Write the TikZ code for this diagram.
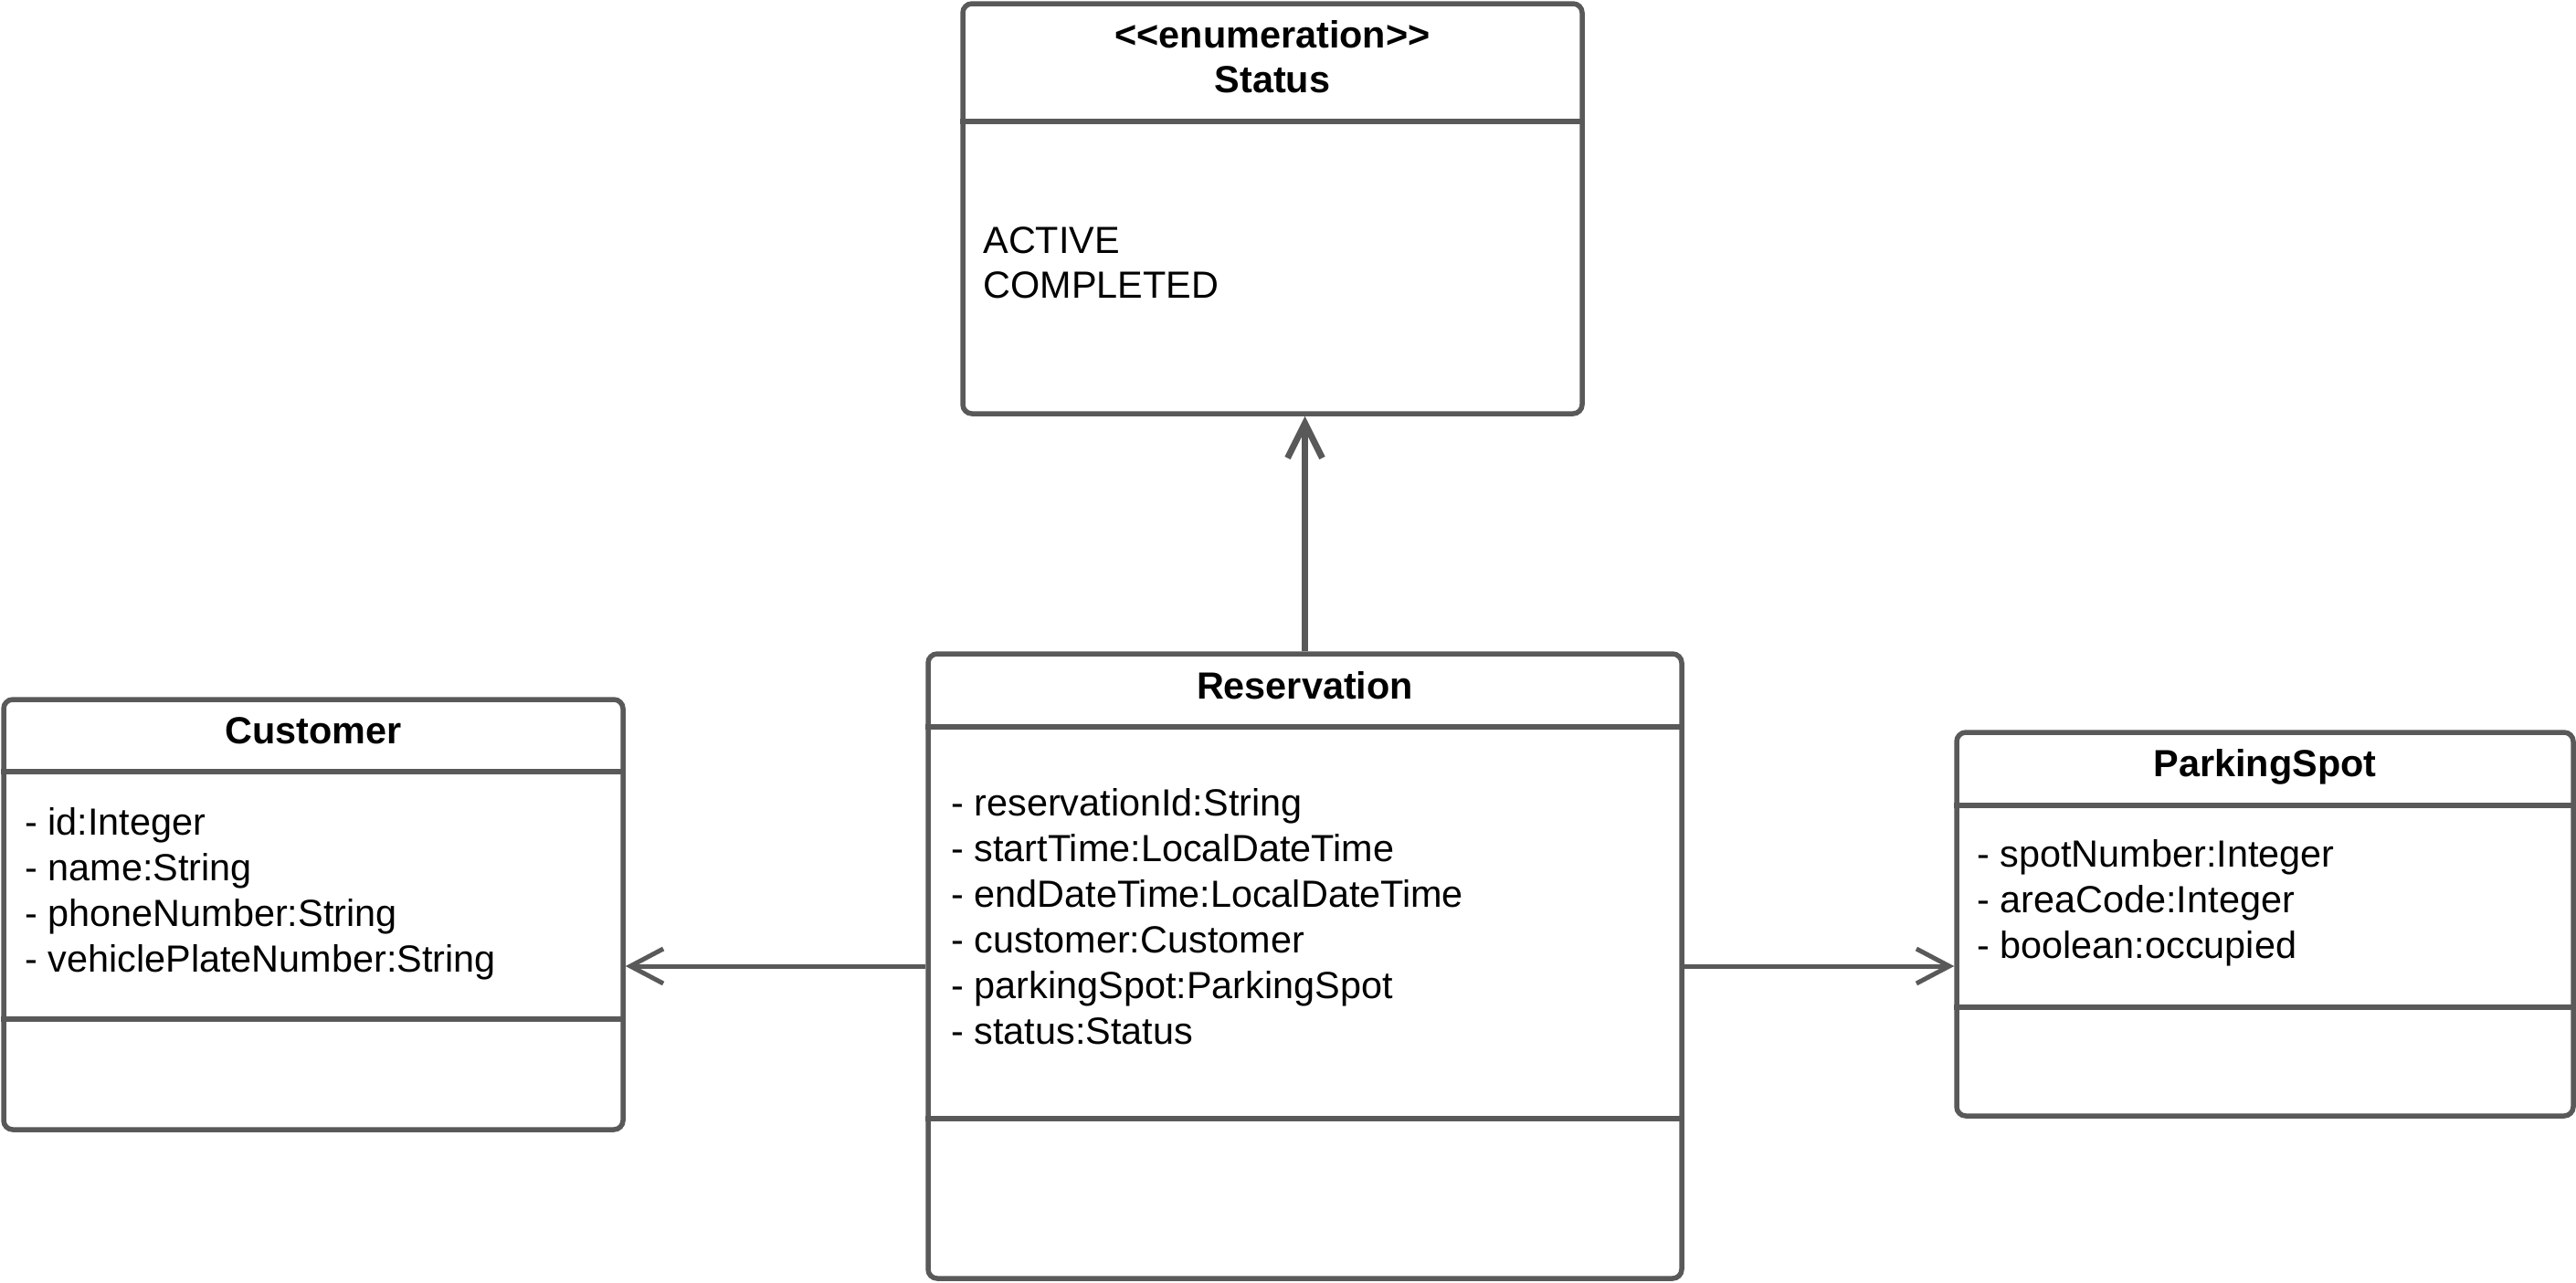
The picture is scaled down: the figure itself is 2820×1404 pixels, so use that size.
\documentclass[tikz,border=0pt]{standalone}
\usepackage{fontspec}
\setmainfont{Liberation Sans}
\usetikzlibrary{arrows.meta}
\definecolor{umlgrey}{RGB}{89,89,89}

\begin{document}
\begin{tikzpicture}[x=0.5pt,y=0.5pt,yscale=-1,xscale=1,
    classbox/.style={draw=umlgrey, line width=2.75pt, rounded corners=5pt, fill=white, inner sep=0pt},
    divider/.style={draw=umlgrey, line width=2.75pt},
    assoc/.style={draw=umlgrey, line width=2.5pt, -{Straight Barb[length=18pt,width=19pt]}},
    attrtext/.style={anchor=base west, inner sep=0pt, align=left, font=\fontsize{20.7}{25}\selectfont},
    titletext/.style={anchor=base, inner sep=0pt, align=center, font=\fontsize{20.7}{24.5}\selectfont\bfseries}]
        \path[use as bounding box] (0,0) rectangle (2820,1404);

        %Shape: Class [id:status]
        \node [classbox, minimum width=339pt, minimum height=224.5pt] (stat) at (1393,228.5) {};
        \draw [divider] (stat.west |- 0,133) -- (stat.east |- 0,133) ;
        %Shape: Class [id:reservation]
        \node [classbox, minimum width=412.5pt, minimum height=342pt] (res) at (1428.5,1058) {};
        \draw [divider] (res.west |- 0,796) -- (res.east |- 0,796) ;
        \draw [divider] (res.west |- 0,1225) -- (res.east |- 0,1225) ;
        %Shape: Class [id:customer]
        \node [classbox, minimum width=339pt, minimum height=235.5pt] (cust) at (343,1001.5) {};
        \draw [divider] (cust.west |- 0,845) -- (cust.east |- 0,845) ;
        \draw [divider] (cust.west |- 0,1116) -- (cust.east |- 0,1116) ;
        %Shape: Class [id:parkingspot]
        \node [classbox, minimum width=337.5pt, minimum height=210pt] (spot) at (2479.5,1012) {};
        \draw [divider] (spot.west |- 0,882) -- (spot.east |- 0,882) ;
        \draw [divider] (spot.west |- 0,1103) -- (spot.east |- 0,1103) ;

        %Straight Lines [id:res-status]
        \draw [assoc, line width=3.5pt, -{Straight Barb[length=19pt,width=19pt]}] (res.north) -- (res.north |- stat.south) ;
        %Straight Lines [id:res-customer]
        \draw [assoc] (res.west) -- (res.west -| cust.east) ;
        %Straight Lines [id:res-spot]
        \draw [assoc] (res.east) -- (res.east -| spot.west) ;

        % Text Node
        \node [titletext] (statTitle) at (1393,101) {<{}<enumeration>{}>\\Status};
        % Text Node
        \node [attrtext, font=\fontsize{20.7}{24.5}\selectfont] (statValues) at (1076,326) {ACTIVE\\COMPLETED};
        % Text Node
        \node [titletext] (resTitle) at (1428.5,765) {Reservation};
        % Text Node
        \node [attrtext] (resAttrs) at (1041,1143) {- reservationId:String\\- startTime:LocalDateTime\\- endDateTime:LocalDateTime\\- customer:Customer\\- parkingSpot:ParkingSpot\\- status:Status};
        % Text Node
        \node [titletext] (custTitle) at (343,814) {Customer};
        % Text Node
        \node [attrtext] (custAttrs) at (27,1064) {- id:Integer\\- name:String\\- phoneNumber:String\\- vehiclePlateNumber:String};
        % Text Node
        \node [titletext] (spotTitle) at (2479.5,850) {ParkingSpot};
        % Text Node
        \node [attrtext] (spotAttrs) at (2164,1049) {- spotNumber:Integer\\- areaCode:Integer\\- boolean:occupied};

    \end{tikzpicture}
\end{document}
